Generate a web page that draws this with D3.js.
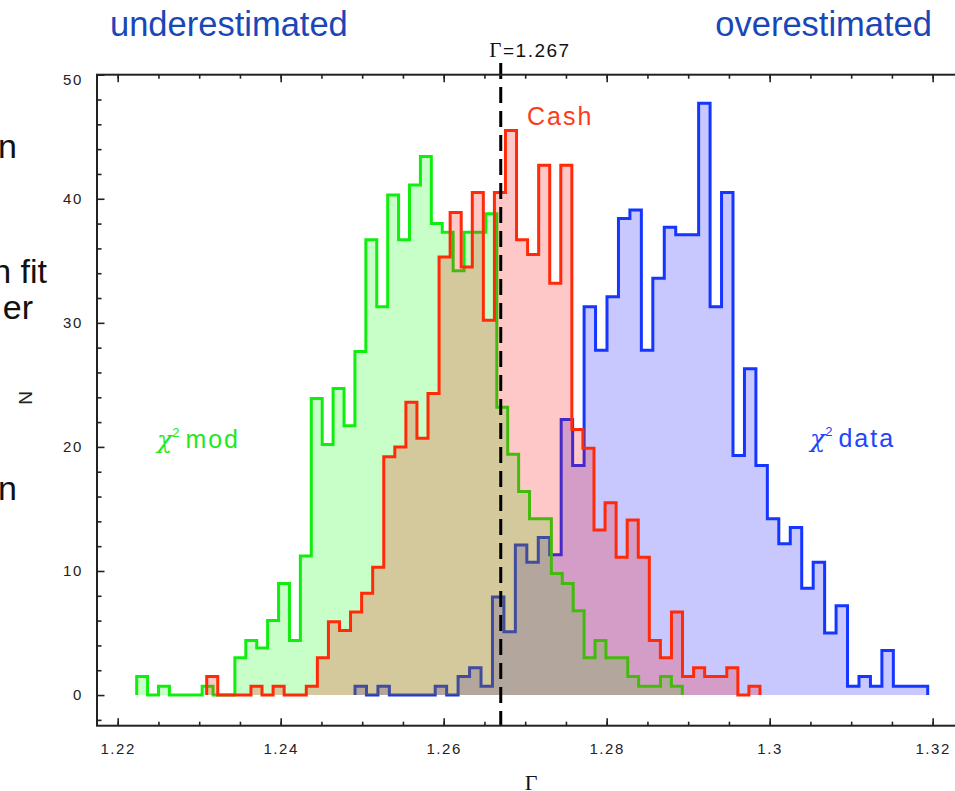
<!DOCTYPE html>
<html>
<head>
<meta charset="utf-8">
<script src="https://cdn.jsdelivr.net/npm/d3@7"></script>
<style>
    body { margin: 0; background: #fff; }
    svg { display: block; font-family: "Liberation Sans", Arial, sans-serif; }
</style>
</head>
<body>
<svg id="chart" width="955" height="791"></svg>
<script>
// histogram data, 50 bins each between min and max of the fitted Gamma
const chiModRange = [1.22233, 1.28928];
const chiModN = [1.5, 0, 0.7, 0, 0, 0, 0.7, 0, 0, 3.0,
    4.4, 3.8, 6.0, 9.0, 4.4, 11.2, 23.9, 20.2, 24.7, 21.7,
    27.7, 36.7, 31.3, 40.3, 36.7, 41.1, 43.4, 38.0, 37.3, 34.2,
    37.3, 37.3, 38.8, 23.2, 19.4, 16.4, 14.2, 14.2, 9.8, 9.0,
    6.8, 3.0, 4.4, 3.0, 3.0, 1.5, 0.7, 0.7, 1.5, 0.7];

const cashRange = [1.23092, 1.29881];
const cashN = [1.5, 0, 0, 0, 0.7, 0, 0.7, 0, 0, 0.7,
    3.0, 5.9, 5.2, 6.7, 8.2, 10.3, 19.2, 20.0, 23.6, 20.7,
    24.3, 35.3, 38.9, 34.5, 40.5, 30.2, 40.5, 45.5, 36.7, 35.5,
    42.7, 33.2, 42.7, 21.4, 19.9, 13.3, 15.5, 11.1, 14.1, 11.1,
    4.4, 3.0, 6.7, 1.5, 2.2, 1.5, 1.5, 2.2, 0, 0.7];

const chiDataRange = [1.24912, 1.31939];
const chiDataN = [0.7, 0, 0.7, 0, 0, 0, 0, 0.7, 0, 1.5,
    2.2, 0.7, 7.9, 5.1, 12.1, 10.7, 12.7, 11.3, 22.2, 18.5,
    31.3, 27.8, 32.1, 38.4, 39.1, 27.8, 33.6, 37.7, 37.1, 37.1,
    47.7, 31.3, 40.5, 19.3, 26.3, 18.5, 14.2, 12.2, 13.5, 8.6,
    10.7, 5.0, 7.2, 0.7, 1.5, 0.7, 3.6, 0.7, 0.7, 0.7];

const gammaTrue = 1.267;
const xLabelTicks = [1.22, 1.24, 1.26, 1.28, 1.30, 1.32];
const yLabelTicks = [0, 10, 20, 30, 40, 50];

const margin = { top: 74.7, left: 97 },
    width = 862,
    height = 651;

let svg = d3.select("#chart");

let x = d3.scaleLinear()
    .domain([1.21746, 1.32323])
    .range([margin.left, margin.left + width]);
let y = d3.scaleLinear()
    .domain([-2.47, 50])
    .range([margin.top + height, margin.top]);

// header texts
svg.append("text")
    .attr("x", 110).attr("y", 36)
    .attr("font-size", 34.5)
    .attr("fill", "#1a47b8")
    .text("underestimated");
svg.append("text")
    .attr("x", 932).attr("y", 36)
    .attr("text-anchor", "end")
    .attr("font-size", 34.5)
    .attr("fill", "#1a47b8")
    .text("overestimated");

// cut-off slide text on the left (cut like in the slide)
const sideText = [["n", 158], ["n fit", 283], ["er", 319], ["n", 500]];
sideText.forEach(d => {
    svg.append("text")
        .attr("x", d[0].length > 2 ? 47 : (d[0] == "er" ? 33 : 17))
        .attr("y", d[1])
        .attr("text-anchor", "end")
        .attr("font-size", 34)
        .attr("fill", "#111")
        .text(d[0]);
});

// histograms: blue first, then green, then red on top
function drawHist(range, counts, stroke, fill) {
    const w = (range[1] - range[0]) / counts.length;
    let pts = [[range[0], 0]];
    counts.forEach((c, i) => pts.push([range[0] + i * w, c]));
    pts.push([range[1], counts[counts.length - 1]]);
    pts.push([range[1], 0]);

    svg.append("path")
        .datum(pts)
        .attr("fill", fill)
        .attr("d", d3.area()
            .curve(d3.curveStepAfter)
            .x(d => x(d[0]))
            .y0(y(0))
            .y1(d => y(d[1])));
    svg.append("path")
        .datum(pts)
        .attr("fill", "none")
        .attr("stroke", stroke)
        .attr("stroke-width", 3)
        .attr("stroke-linejoin", "miter")
        .attr("d", d3.line()
            .curve(d3.curveStepAfter)
            .x(d => x(d[0]))
            .y(d => y(d[1])));
}
drawHist(chiDataRange, chiDataN, "#1436ff", "rgba(0,0,255,0.215)");
drawHist(chiModRange, chiModN, "#10ee10", "rgba(0,255,0,0.215)");
drawHist(cashRange, cashN, "#ff2a08", "rgba(255,0,0,0.215)");

// true value
svg.append("line")
    .attr("x1", x(gammaTrue)).attr("x2", x(gammaTrue))
    .attr("y1", 63).attr("y2", y.range()[0])
    .attr("stroke", "#000")
    .attr("stroke-width", 3)
    .attr("stroke-dasharray", "16,8");
let gl = svg.append("text")
    .attr("x", 530).attr("y", 57)
    .attr("text-anchor", "middle")
    .attr("font-size", 19)
    .attr("letter-spacing", 1.5)
    .attr("fill", "#111");
gl.append("tspan").attr("font-family", "'Liberation Serif', serif").attr("font-size", 21).text("Γ");
gl.append("tspan").text("=1.267");

// axes, ticks pointing inwards
function styleAxis(g) {
    g.select(".domain").remove();
    g.selectAll("line").attr("stroke", "#222").attr("stroke-width", 1.6);
    g.selectAll("text").attr("font-size", 15).attr("fill", "#222")
        .attr("font-family", "'Liberation Sans', Arial, sans-serif")
        .attr("letter-spacing", 1.6);
}
const xMinor = d3.range(1.22, 1.3225, 0.005);
const yMinor = d3.range(-2, 50, 2).filter(v => v % 10 != 0);

svg.append("g")
    .attr("transform", "translate(0," + y.range()[0] + ")")
    .call(d3.axisBottom(x).tickValues(xLabelTicks).tickSize(-7.5).tickPadding(18)
        .tickFormat(d3.format("~g")))
    .call(styleAxis);
svg.append("g")
    .attr("transform", "translate(0," + y.range()[0] + ")")
    .call(d3.axisBottom(x).tickValues(xMinor).tickSize(-4).tickFormat(""))
    .call(styleAxis);
svg.append("g")
    .attr("transform", "translate(0," + margin.top + ")")
    .call(d3.axisTop(x).tickValues(xLabelTicks).tickSize(-7.5).tickFormat(""))
    .call(styleAxis);
svg.append("g")
    .attr("transform", "translate(0," + margin.top + ")")
    .call(d3.axisTop(x).tickValues(xMinor).tickSize(-4).tickFormat(""))
    .call(styleAxis);
let yAxis = svg.append("g")
    .attr("transform", "translate(" + margin.left + ",0)")
    .call(d3.axisLeft(y).tickValues(yLabelTicks).tickSize(-7.5).tickPadding(14))
    .call(styleAxis);
yAxis.selectAll("text").filter(d => d == 50).attr("dy", "0.68em");
svg.append("g")
    .attr("transform", "translate(" + margin.left + ",0)")
    .call(d3.axisLeft(y).tickValues(yMinor).tickSize(-4.5).tickFormat(""))
    .call(styleAxis);

// frame
svg.append("rect")
    .attr("x", margin.left).attr("y", margin.top)
    .attr("width", width).attr("height", height)
    .attr("fill", "none")
    .attr("stroke", "#222")
    .attr("stroke-width", 2);

// axis titles
svg.append("text")
    .attr("x", 531).attr("y", 790)
    .attr("text-anchor", "middle")
    .attr("font-family", "'Liberation Serif', serif")
    .attr("font-size", 22)
    .attr("fill", "#111")
    .text("Γ");
svg.append("text")
    .attr("transform", "translate(32,398)rotate(-90)")
    .attr("text-anchor", "middle")
    .attr("font-size", 19)
    .attr("fill", "#222")
    .text("N");

// series labels
function seriesLabel(xPos, yPos, color, chi, rest) {
    let t = svg.append("text")
        .attr("x", xPos).attr("y", yPos)
        .attr("font-size", 25)
        .attr("letter-spacing", 2)
        .attr("fill", color);
    if (chi) {
        t.append("tspan").attr("font-family", "'DejaVu Serif', serif").attr("font-style", "italic")
            .attr("letter-spacing", 0).text("χ");
        t.append("tspan").attr("font-size", 13).attr("dy", -11).attr("letter-spacing", 0).text("2");
        t.append("tspan").attr("dy", 11).attr("dx", 6).text(rest);
    } else {
        t.text(rest);
    }
}
seriesLabel(527, 125, "#ff3a1a", false, "Cash");
seriesLabel(157, 448, "#22e822", true, "mod");
seriesLabel(810, 447, "#2244ff", true, "data");
</script>
</body>
</html>
